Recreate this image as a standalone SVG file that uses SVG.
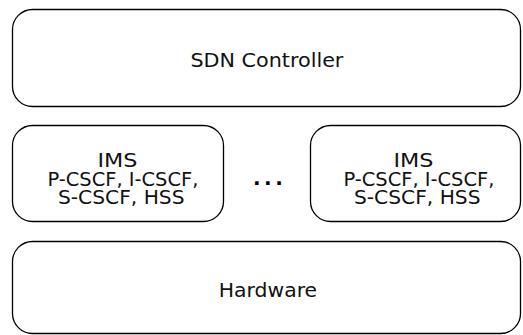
<svg xmlns="http://www.w3.org/2000/svg" width="523" height="335" viewBox="0 0 523 335">
  <style>
    .box { fill: #ffffff; stroke: #000000; stroke-width: 1.3; }
    .lbl { font-family: "DejaVu Sans", "Noto Sans", sans-serif; font-size: 20px; fill: #111111; }
    .dots { font-family: "DejaVu Sans", sans-serif; font-size: 20px; font-weight: bold; fill: #000000; letter-spacing: 3.55px; }
  </style>
  <rect width="523" height="335" fill="#ffffff"/>
  <g id="sdn-controller">
    <rect class="box" x="12.5" y="9.5" width="508" height="97" rx="20" ry="20"/>
    <text class="lbl" x="190.4" y="66.5" textLength="153" lengthAdjust="spacingAndGlyphs">SDN Controller</text>
  </g>
  <g id="ims-1">
    <rect class="box" x="12.5" y="125.5" width="211" height="96" rx="20" ry="20"/>
    <text class="lbl" lengthAdjust="spacingAndGlyphs">
      <tspan x="97.4" y="167" textLength="40" lengthAdjust="spacingAndGlyphs">IMS</tspan>
      <tspan x="47.4" y="185.7" textLength="151" lengthAdjust="spacingAndGlyphs">P-CSCF, I-CSCF,</tspan>
      <tspan x="58" y="204" textLength="126.5" lengthAdjust="spacingAndGlyphs">S-CSCF, HSS</tspan>
    </text>
  </g>
  <g id="ellipsis">
    <text class="dots" x="252.9" y="185.3">...</text>
  </g>
  <g id="ims-2">
    <rect class="box" x="310.5" y="125.5" width="210" height="96" rx="20" ry="20"/>
    <text class="lbl" lengthAdjust="spacingAndGlyphs">
      <tspan x="393.4" y="167" textLength="40" lengthAdjust="spacingAndGlyphs">IMS</tspan>
      <tspan x="343.4" y="185.7" textLength="151" lengthAdjust="spacingAndGlyphs">P-CSCF, I-CSCF,</tspan>
      <tspan x="354" y="204" textLength="126.5" lengthAdjust="spacingAndGlyphs">S-CSCF, HSS</tspan>
    </text>
  </g>
  <g id="hardware">
    <rect class="box" x="12.5" y="241.5" width="508" height="92" rx="20" ry="20"/>
    <text class="lbl" x="218.8" y="296.7" textLength="98.3" lengthAdjust="spacingAndGlyphs">Hardware</text>
  </g>
  <g id="connectors"/>
</svg>
